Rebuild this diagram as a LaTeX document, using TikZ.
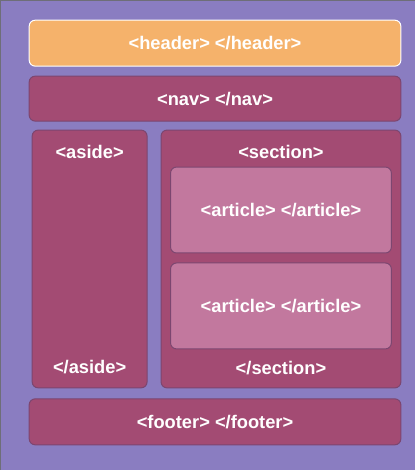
\documentclass[tikz,border=0pt]{standalone}
\usepackage{fontspec}
\setmainfont{Liberation Sans}
\usetikzlibrary{positioning}
\definecolor{cfondo}{HTML}{8A7DC1}
\definecolor{cnaranja}{HTML}{F5B26B}
\definecolor{cvino}{HTML}{A34B73}
\definecolor{crosa}{HTML}{C2789E}
\definecolor{cborde}{HTML}{7C4670}
\definecolor{cmarco}{HTML}{6E6E78}
\tikzset{
  caja/.style={rectangle, rounded corners=6pt, draw=cborde, fill=cvino, line width=1pt,
    text=white, font=\bfseries\fontsize{18.3}{21}\selectfont, inner sep=0pt, outer sep=0pt,
    minimum width=372pt, minimum height=45pt},
  cajan/.style={caja, draw=white, fill=cnaranja},
  cajar/.style={caja, fill=crosa, minimum width=221pt, minimum height=86pt},
  etq/.style={text=white, font=\bfseries\fontsize{18.3}{21}\selectfont, inner sep=0pt},
}
\begin{document}
\begin{tikzpicture}[x=1pt,y=1pt]
  \fill[cfondo] (0,0) rectangle (415,-470);
  \draw[cmarco] (0,-470) -- (0,0) -- (415,0);
  \node[cajan, minimum height=46pt] (header) at (215,-43) {<header> </header>};
  \node[caja, below=10pt of header] (nav) {<nav> </nav>};
  \node[caja, minimum width=115pt, minimum height=258pt, anchor=north west,
    below right=9pt and 3pt of nav.south west] (aside) {};
  \node[caja, minimum width=240pt, minimum height=258pt, right=14pt of aside] (section) {};
  \node[etq, below=15pt of aside.north] (asideo) {<aside>};
  \node[etq, above=14pt of aside.south] (asidec) {</aside>};
  \node[etq, below=15pt of section.north] (sectiono) {<section>};
  \node[etq, above=13pt of section.south] (sectionc) {</section>};
  \node[cajar, below=37pt of section.north] (art1) {<article> </article>};
  \node[cajar, below=10pt of art1] (art2) {<article> </article>};
  \coordinate[below=11pt of aside.south] (pie);
  \node[caja, anchor=north, minimum height=46pt] (footer) at (nav |- pie) {<footer> </footer>};
\end{tikzpicture}
\end{document}
